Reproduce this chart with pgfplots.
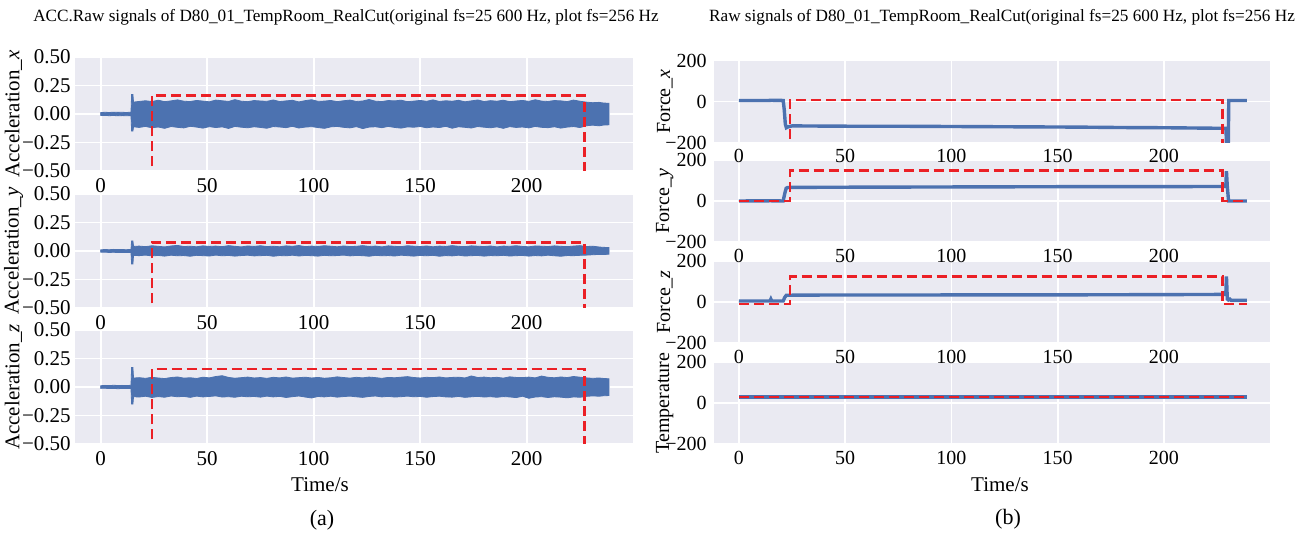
\documentclass[border=0pt]{standalone}
\usepackage{fontspec}
\setmainfont{Liberation Serif}
\usepackage{pgfplots}
\pgfplotsset{compat=1.18}
\usepackage{pgfplotstable}

\definecolor{sbblue}{RGB}{76,114,176}
\definecolor{sbback}{RGB}{234,234,242}
\definecolor{cutred}{RGB}{235,32,38}

% typographic minus for the tick labels
\newcommand{\mn}{\char"2212\relax}

% ---------- acceleration envelopes (time, upper, lower) ----------
\pgfplotstableread{
t hi lo
0 0.012 -0.013
2 0.015 -0.012
4 0.013 -0.015
6 0.016 -0.013
8 0.014 -0.016
10 0.015 -0.014
12 0.013 -0.015
14.2 0.016 -0.014
14.5 0.170 -0.150
15.1 0.170 -0.150
15.4 0.104 -0.112
18 0.110 -0.118
21 0.116 -0.109
24 0.109 -0.121
27 0.121 -0.114
30 0.108 -0.126
33 0.115 -0.110
36 0.124 -0.117
39 0.112 -0.122
42 0.109 -0.108
45 0.119 -0.115
48 0.113 -0.124
51 0.107 -0.111
54 0.122 -0.119
57 0.116 -0.113
60 0.110 -0.127
63 0.126 -0.109
66 0.112 -0.116
69 0.108 -0.121
72 0.118 -0.112
75 0.114 -0.118
78 0.111 -0.125
81 0.123 -0.110
84 0.109 -0.114
87 0.115 -0.120
90 0.120 -0.108
93 0.106 -0.123
96 0.117 -0.115
99 0.125 -0.111
102 0.111 -0.119
105 0.113 -0.126
108 0.119 -0.113
111 0.108 -0.109
114 0.116 -0.117
117 0.122 -0.122
120 0.110 -0.111
123 0.114 -0.128
126 0.127 -0.115
129 0.112 -0.112
132 0.109 -0.120
135 0.118 -0.109
138 0.115 -0.118
141 0.121 -0.124
144 0.108 -0.113
147 0.113 -0.116
150 0.119 -0.110
153 0.111 -0.121
156 0.124 -0.114
159 0.110 -0.119
162 0.116 -0.108
165 0.112 -0.125
168 0.120 -0.112
171 0.107 -0.117
174 0.115 -0.123
177 0.123 -0.110
180 0.109 -0.116
183 0.117 -0.121
186 0.112 -0.113
189 0.121 -0.126
192 0.108 -0.111
195 0.114 -0.118
198 0.119 -0.114
201 0.111 -0.122
204 0.125 -0.109
207 0.113 -0.117
210 0.110 -0.120
213 0.118 -0.112
216 0.115 -0.124
219 0.109 -0.115
222 0.122 -0.110
225 0.112 -0.119
228 0.104 -0.103
231 0.099 -0.098
234 0.102 -0.104
236 0.096 -0.097
238.6 0.094 -0.095
}\accx

\pgfplotstableread{
t hi lo
0 0.010 -0.011
2 0.013 -0.010
4 0.011 -0.013
6 0.014 -0.011
8 0.012 -0.014
10 0.013 -0.012
12 0.011 -0.013
14.2 0.014 -0.012
14.5 0.088 -0.114
15.1 0.088 -0.114
15.4 0.040 -0.038
18 0.043 -0.041
21 0.038 -0.036
24 0.046 -0.043
27 0.041 -0.039
30 0.036 -0.045
33 0.044 -0.037
36 0.049 -0.042
39 0.039 -0.040
42 0.042 -0.046
45 0.037 -0.038
48 0.045 -0.041
51 0.040 -0.044
54 0.043 -0.036
57 0.038 -0.042
60 0.047 -0.039
63 0.041 -0.045
66 0.036 -0.040
69 0.044 -0.037
72 0.040 -0.043
75 0.046 -0.041
78 0.039 -0.038
81 0.042 -0.046
84 0.037 -0.040
87 0.045 -0.042
90 0.041 -0.037
93 0.048 -0.044
96 0.038 -0.039
99 0.043 -0.041
102 0.040 -0.045
105 0.046 -0.038
108 0.042 -0.042
111 0.037 -0.040
114 0.044 -0.036
117 0.039 -0.043
120 0.041 -0.039
123 0.047 -0.041
126 0.040 -0.046
129 0.043 -0.038
132 0.036 -0.042
135 0.045 -0.040
138 0.041 -0.044
141 0.038 -0.037
144 0.046 -0.041
147 0.042 -0.045
150 0.039 -0.039
153 0.044 -0.042
156 0.037 -0.038
159 0.043 -0.046
162 0.040 -0.040
165 0.047 -0.043
168 0.041 -0.037
171 0.038 -0.044
174 0.045 -0.041
177 0.042 -0.039
180 0.039 -0.045
183 0.044 -0.040
186 0.036 -0.042
189 0.043 -0.038
192 0.041 -0.044
195 0.046 -0.041
198 0.040 -0.039
201 0.037 -0.045
204 0.044 -0.040
207 0.042 -0.043
210 0.039 -0.037
213 0.045 -0.042
216 0.041 -0.046
219 0.038 -0.040
222 0.043 -0.041
225 0.047 -0.038
228 0.039 -0.036
231 0.042 -0.033
234 0.035 -0.030
236 0.032 -0.031
238.6 0.030 -0.028
}\accy

\pgfplotstableread{
t hi lo
0 0.011 -0.012
2 0.014 -0.011
4 0.012 -0.014
6 0.015 -0.012
8 0.013 -0.015
10 0.014 -0.013
12 0.012 -0.014
14.2 0.015 -0.013
14.5 0.170 -0.150
15.1 0.170 -0.150
15.4 0.078 -0.085
18 0.082 -0.088
21 0.076 -0.081
24 0.085 -0.092
27 0.079 -0.084
30 0.074 -0.090
33 0.083 -0.079
36 0.088 -0.086
39 0.078 -0.082
42 0.081 -0.091
45 0.075 -0.080
48 0.086 -0.087
51 0.080 -0.083
54 0.092 -0.078
57 0.099 -0.088
60 0.084 -0.085
63 0.077 -0.090
66 0.082 -0.081
69 0.087 -0.086
72 0.079 -0.083
75 0.083 -0.089
78 0.076 -0.080
81 0.085 -0.087
84 0.080 -0.082
87 0.088 -0.092
90 0.078 -0.085
93 0.082 -0.079
96 0.086 -0.088
99 0.079 -0.096
102 0.084 -0.083
105 0.077 -0.087
108 0.081 -0.081
111 0.089 -0.089
114 0.083 -0.084
117 0.078 -0.080
120 0.085 -0.086
123 0.080 -0.091
126 0.087 -0.083
129 0.082 -0.079
132 0.076 -0.087
135 0.084 -0.082
138 0.081 -0.088
141 0.086 -0.085
144 0.091 -0.080
147 0.083 -0.086
150 0.079 -0.083
153 0.085 -0.090
156 0.082 -0.084
159 0.088 -0.081
162 0.080 -0.087
165 0.084 -0.089
168 0.086 -0.083
171 0.079 -0.091
174 0.097 -0.086
177 0.083 -0.082
180 0.087 -0.088
183 0.081 -0.085
186 0.085 -0.090
189 0.078 -0.084
192 0.089 -0.087
195 0.084 -0.093
198 0.082 -0.081
201 0.087 -0.099
204 0.080 -0.088
207 0.096 -0.085
210 0.085 -0.092
213 0.081 -0.086
216 0.088 -0.089
219 0.083 -0.095
222 0.092 -0.087
225 0.086 -0.090
228 0.080 -0.082
231 0.076 -0.078
234 0.079 -0.081
236 0.075 -0.077
238.6 0.072 -0.075
}\accz

% ---------- force and temperature (time, value) ----------
\pgfplotstableread{
t v
0 5
14 5
15 6
20.8 5
21.3 -40
21.8 -110
22.3 -128
23 -124
25 -119
40 -120
60 -121
80 -121
100 -122
120 -123
140 -124
160 -125
180 -127
200 -128
220 -130
229.2 -131
229.5 -260
230.2 -260
230.5 5
239 5
}\forcex

\pgfplotstableread{
t v
0 0
15 1
20.8 0
21.5 35
22.2 62
23 66
40 67
80 68
120 69
160 70
200 70
229.1 71
229.4 145
229.8 70
230.4 0
239 0
}\forcey

\pgfplotstableread{
t v
0 5
14.6 5
15.0 14
15.4 5
20.8 5
21.5 22
22.3 33
40 34
80 34
120 35
160 35
200 36
229.1 37
229.4 125
229.8 15
230.3 10
231 14
231.6 8
239 8
}\forcez

\pgfplotstableread{
t v
0 30
239 30
}\temper

% ---------- cutting windows ----------
\pgfplotstableread{
t v
0 -0.8
24 -0.8
24 0.163
227 0.163
227 -0.8
238.6 -0.8
}\cutax
\pgfplotstableread{
t v
0 -0.8
24 -0.8
24 0.076
227 0.076
227 -0.8
238.6 -0.8
}\cutay
\pgfplotstableread{
t v
0 -0.8
24 -0.8
24 0.158
227 0.158
227 -0.8
238.6 -0.8
}\cutaz
\pgfplotstableread{
t v
0 -300
24 -300
24 8
227.4 8
227.4 -300
239 -300
}\cutfx
\pgfplotstableread{
t v
0 0
24 0
24 148
227.4 148
227.4 0
239 0
}\cutfy
\pgfplotstableread{
t v
0 -10
24 -10
24 123
227.4 123
227.4 -10
239 -10
}\cutfz
\pgfplotstableread{
t v
0 30
239 30
}\cutt

\pgfplotsset{
  sigaxis/.style={
    scale only axis,
    anchor=south west,
    xmin=-11.9, xmax=249.9,
    xtick={0,50,100,150,200},
    axis background/.style={fill=sbback},
    axis line style={draw=none},
    tick style={draw=none},
    grid=major,
    major grid style={white, line width=0.8pt},
    /pgf/number format/assume math mode=true,
    no markers,
  },
  accaxis/.style={
    sigaxis, width=278.8pt, height=57pt,
    tick label style={font=\fontsize{10.5}{12}\selectfont},
    yticklabel style={xshift=1.2pt},
    label style={font=\fontsize{10.5}{12}\selectfont},
    ymin=-0.5, ymax=0.5,
    ytick={-0.5,-0.25,0,0.25,0.5},
    yticklabels={\mbox{\mn 0.50},\mbox{\mn 0.25},\mbox{0.00},\mbox{0.25},\mbox{0.50}},
    ylabel style={at={(axis description cs:-0.111,0.5)}, anchor=center},
  },
  forceaxis/.style={
    sigaxis, width=278.15pt, height=41pt,
    tick label style={font=\fontsize{10}{11}\selectfont},
    label style={font=\fontsize{10}{11}\selectfont},
    ymin=-200, ymax=200,
    ytick={-200,0,200},
    yticklabels={\mbox{\mn 200},\mbox{0},\mbox{200}},
    ylabel style={at={(axis description cs:-0.088,0.5)}, anchor=center},
  },
  band/.style={fill=sbblue, draw=sbblue, line width=0.4pt},
  sig/.style={sbblue, line width=1.7pt},
  cut/.style={cutred, line width=1.3pt, dash pattern=on 5pt off 2.5pt},
}

\begin{document}
\begin{tikzpicture}
\path[use as bounding box] (0pt,0pt) rectangle (653pt,267pt);

% ---------------- panel (a): vibration (drawn bottom to top) ----------------
\node[font=\fontsize{8.6}{10}\selectfont] at (173pt,258.5pt)
  {ACC.Raw signals of D80\_01\_TempRoom\_RealCut(original fs=25~600 Hz, plot fs=256 Hz};

\begin{axis}[accaxis, at={(37.7pt,45pt)}, ylabel={Acceleration\_\textit{z}}]
  % the envelope is filled from each edge to the zero line
  \addplot[band] table[x=t,y=hi]{\accz} \closedcycle;
  \addplot[band] table[x=t,y=lo]{\accz} \closedcycle;
  \addplot[cut] table[x=t,y=v]{\cutaz};
\end{axis}

\begin{axis}[accaxis, at={(37.7pt,113pt)}, ylabel={Acceleration\_\textit{y}}]
  \addplot[band] table[x=t,y=hi]{\accy} \closedcycle;
  \addplot[band] table[x=t,y=lo]{\accy} \closedcycle;
  \addplot[cut] table[x=t,y=v]{\cutay};
\end{axis}

\begin{axis}[accaxis, at={(37.7pt,181.5pt)}, ylabel={Acceleration\_\textit{x}}]
  \addplot[band] table[x=t,y=hi]{\accx} \closedcycle;
  \addplot[band] table[x=t,y=lo]{\accx} \closedcycle;
  \addplot[cut] table[x=t,y=v]{\cutax};
\end{axis}

\node[font=\fontsize{10.5}{12}\selectfont] at (160pt,24.5pt) {Time/s};
\node[font=\fontsize{11}{13}\selectfont] at (161pt,7pt) {(a)};

% ---------------- panel (b): force and temperature (drawn bottom to top) ----------------
\node[font=\fontsize{8.6}{10}\selectfont] at (501pt,258.5pt)
  {Raw signals of D80\_01\_TempRoom\_RealCut(original fs=25~600 Hz, plot fs=256 Hz};

\begin{axis}[forceaxis, at={(356.85pt,45pt)}, ylabel={Temperature}]
  \addplot[sig] table[x=t,y=v]{\temper};
  \addplot[cut] table[x=t,y=v]{\cutt};
\end{axis}

\begin{axis}[forceaxis, at={(356.85pt,95.5pt)}, ylabel={Force\_\textit{z}}]
  \addplot[sig] table[x=t,y=v]{\forcez};
  \addplot[cut] table[x=t,y=v]{\cutfz};
\end{axis}

\begin{axis}[forceaxis, at={(356.85pt,146pt)}, ylabel={Force\_\textit{y}}]
  \addplot[sig] table[x=t,y=v]{\forcey};
  \addplot[cut] table[x=t,y=v]{\cutfy};
\end{axis}

\begin{axis}[forceaxis, at={(356.85pt,195.75pt)}, ylabel={Force\_\textit{x}}]
  \addplot[sig] table[x=t,y=v]{\forcex};
  \addplot[cut] table[x=t,y=v]{\cutfx};
\end{axis}

\node[font=\fontsize{10.5}{12}\selectfont] at (500pt,24.5pt) {Time/s};
\node[font=\fontsize{11}{13}\selectfont] at (504pt,7.5pt) {(b)};
\end{tikzpicture}
\end{document}
